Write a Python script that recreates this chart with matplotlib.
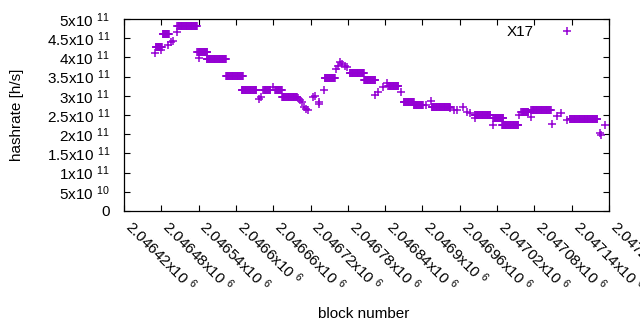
import numpy as np
import matplotlib
matplotlib.use("Agg")
import matplotlib.pyplot as plt

# ==============================
# Dados
# ==============================
# cada trecho: bloco inicial, bloco final, hashrate constante
seg_start = [2046470, 2046471, 2046480, 2046482, 2046491, 2046496, 2046499, 2046505,
             2046506, 2046538, 2046541, 2046553, 2046584, 2046609, 2046637, 2046640,
             2046644, 2046659, 2046663, 2046674, 2046700, 2046703, 2046706, 2046709,
             2046713, 2046716, 2046724, 2046727, 2046733, 2046734, 2046742, 2046743,
             2046761, 2046764, 2046767, 2046771, 2046776, 2046779, 2046783, 2046806,
             2046824, 2046828, 2046836, 2046843, 2046845, 2046865, 2046870, 2046886,
             2046906, 2046913, 2046915, 2046945, 2046951, 2046955, 2046965, 2046972,
             2046976, 2046984, 2046984, 2047013, 2047014, 2047028, 2047056, 2047059,
             2047074, 2047075, 2047108, 2047116, 2047122, 2047133, 2047137, 2047185,
             2047187, 2047194]
seg_end = [2046470, 2046481, 2046480, 2046492, 2046491, 2046496, 2046499, 2046505,
           2046537, 2046554, 2046541, 2046584, 2046611, 2046633, 2046637, 2046640,
           2046655, 2046659, 2046674, 2046698, 2046700, 2046703, 2046706, 2046709,
           2046713, 2046716, 2046724, 2046727, 2046733, 2046734, 2046742, 2046759,
           2046761, 2046764, 2046767, 2046771, 2046776, 2046779, 2046806, 2046824,
           2046824, 2046828, 2046836, 2046843, 2046861, 2046865, 2046886, 2046901,
           2046906, 2046913, 2046944, 2046945, 2046951, 2046955, 2046965, 2046972,
           2046976, 2046984, 2047009, 2047013, 2047030, 2047054, 2047056, 2047070,
           2047074, 2047106, 2047108, 2047116, 2047122, 2047133, 2047181, 2047185,
           2047187, 2047194]
seg_rate = [4.11e11, 4.26e11, 4.19e11, 4.62e11, 4.32e11, 4.39e11, 4.43e11, 4.67e11,
            4.83e11, 4.13e11, 3.98e11, 3.97e11, 3.52e11, 3.14e11, 2.92e11, 2.96e11,
            3.14e11, 3.24e11, 3.14e11, 2.96e11, 2.93e11, 2.89e11, 2.83e11, 2.71e11,
            2.66e11, 2.63e11, 2.97e11, 3.00e11, 2.79e11, 2.85e11, 3.14e11, 3.46e11,
            3.70e11, 3.78e11, 3.88e11, 3.83e11, 3.78e11, 3.74e11, 3.59e11, 3.42e11,
            3.03e11, 3.11e11, 3.24e11, 3.33e11, 3.26e11, 3.09e11, 2.85e11, 2.77e11,
            2.77e11, 2.86e11, 2.71e11, 2.67e11, 2.63e11, 2.62e11, 2.70e11, 2.57e11,
            2.55e11, 2.42e11, 2.50e11, 2.25e11, 2.43e11, 2.23e11, 2.51e11, 2.59e11,
            2.46e11, 2.64e11, 2.26e11, 2.47e11, 2.55e11, 2.37e11, 2.40e11, 2.04e11,
            1.98e11, 2.25e11]

x_ticks = [2046420, 2046480, 2046540, 2046600, 2046660, 2046720, 2046780,
           2046840, 2046900, 2046960, 2047020, 2047080, 2047140, 2047200]
x_mant = ["2.04642", "2.04648", "2.04654", "2.0466", "2.04666", "2.04672", "2.04678",
          "2.04684", "2.0469", "2.04696", "2.04702", "2.04708", "2.04714", "2.0472"]
y_ticks = [0, 5e10, 1e11, 1.5e11, 2e11, 2.5e11, 3e11, 3.5e11, 4e11, 4.5e11, 5e11]
y_labels = ["0", "5x10 $^{10}$", "1x10 $^{11}$", "1.5x10 $^{11}$", "2x10 $^{11}$",
            "2.5x10 $^{11}$", "3x10 $^{11}$", "3.5x10 $^{11}$", "4x10 $^{11}$",
            "4.5x10 $^{11}$", "5x10 $^{11}$"]

# expandir trechos em pontos por bloco
xs, ys = [], []
for s, e, r in zip(seg_start, seg_end, seg_rate):
    b = np.arange(s, e + 1, 1)
    xs.extend(b)
    ys.extend([r] * len(b))

# ==============================
# Gráfico
# ==============================
plt.rcParams["font.family"] = "Liberation Sans"
plt.rcParams["mathtext.fontset"] = "custom"
plt.rcParams["mathtext.rm"] = "Liberation Sans"
plt.rcParams["mathtext.it"] = "Liberation Sans"
plt.rcParams["font.size"] = 11

fig = plt.figure(figsize=(6.4, 3.3), dpi=100)
ax = fig.add_axes([124 / 640, 1 - 211 / 330, 485 / 640, 192 / 330])

ax.plot(xs, ys, linestyle="none", marker="+", color="#9400D3",
        markersize=5.5, markeredgewidth=1.1, label="X17")

ax.set_xlim(2046420, 2047200)
ax.set_ylim(0, 5e11)

ax.set_xticks(x_ticks)
ax.set_xticklabels([m + "x10 $^{6}$" for m in x_mant], rotation=-45,
                   ha="left", va="baseline", rotation_mode="anchor")
ax.set_yticks(y_ticks)
ax.set_yticklabels(y_labels)

ax.tick_params(direction="in", length=4, width=0.8, top=True, right=True,
               labelsize=11)
ax.tick_params(axis="x", pad=12)
ax.tick_params(axis="y", pad=10)
for sp in ax.spines.values():
    sp.set_linewidth(0.9)

ax.set_xlabel("block number", fontsize=11)
ax.set_ylabel("hashrate [h/s]", fontsize=11)
ax.xaxis.set_label_coords((364 - 124) / 485, -(307 - 211) / 192)
ax.yaxis.set_label_coords(-(124 - 24) / 485, 0.5)

ax.legend(loc="upper right", bbox_to_anchor=((587 - 124) / 485, (211 - 25) / 192),
          frameon=False, markerfirst=False, numpoints=1, borderpad=0,
          borderaxespad=0, handlelength=2.6, handletextpad=0.9, fontsize=11)

fig.savefig("out.png", dpi=100)
